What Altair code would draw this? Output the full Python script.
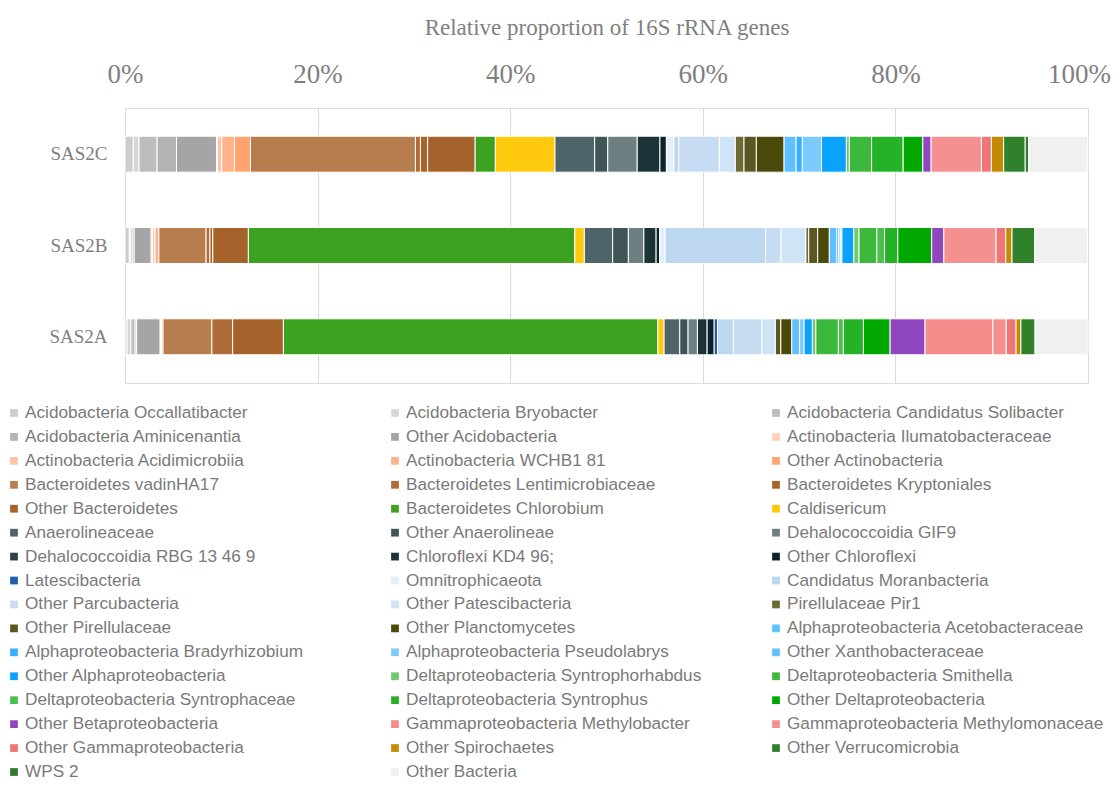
import altair as alt
import pandas as pd

categories = [
    "Acidobacteria Occallatibacter", "Acidobacteria Bryobacter", "Acidobacteria Candidatus Solibacter",
    "Acidobacteria Aminicenantia", "Other Acidobacteria", "Actinobacteria Ilumatobacteraceae",
    "Actinobacteria Acidimicrobiia", "Actinobacteria WCHB1 81", "Other Actinobacteria",
    "Bacteroidetes vadinHA17", "Bacteroidetes Lentimicrobiaceae", "Bacteroidetes Kryptoniales",
    "Other Bacteroidetes", "Bacteroidetes Chlorobium", "Caldisericum",
    "Anaerolineaceae", "Other Anaerolineae", "Dehalococcoidia GIF9",
    "Dehalococcoidia RBG 13 46 9", "Chloroflexi KD4 96;", "Other Chloroflexi",
    "Latescibacteria", "Omnitrophicaeota", "Candidatus Moranbacteria",
    "Other Parcubacteria", "Other Patescibacteria", "Pirellulaceae Pir1",
    "Other Pirellulaceae", "Other Planctomycetes", "Alphaproteobacteria Acetobacteraceae",
    "Alphaproteobacteria Bradyrhizobium", "Alphaproteobacteria Pseudolabrys", "Other Xanthobacteraceae",
    "Other Alphaproteobacteria", "Deltaproteobacteria Syntrophorhabdus", "Deltaproteobacteria Smithella",
    "Deltaproteobacteria Syntrophaceae", "Deltaproteobacteria Syntrophus", "Other Deltaproteobacteria",
    "Other Betaproteobacteria", "Gammaproteobacteria Methylobacter", "Gammaproteobacteria Methylomonaceae",
    "Other Gammaproteobacteria", "Other Spirochaetes", "Other Verrucomicrobia",
    "WPS 2", "Other Bacteria",
]

colors = [
    "#CDCDCD", "#D6D6D6", "#BDBDBD",
    "#B3B3B3", "#A5A5A5", "#FFD2BC",
    "#FFC4A6", "#FFB38C", "#FFA371",
    "#B87D4C", "#AE6C3A", "#A9642E",
    "#A5622A", "#3EA221", "#FFC90E",
    "#4F6468", "#3F5558", "#6E7F82",
    "#2C4246", "#1C3337", "#0C2428",
    "#1F5FA8", "#E4EFFB", "#BDD7F1",
    "#C7DBF2", "#D0E4F8", "#6E6A35",
    "#5A5722", "#4B4A0A", "#5EC0FF",
    "#3AAFFF", "#7CCBFF", "#5FBFFF",
    "#0AA2FF", "#6FCB6F", "#3CB83C",
    "#4CC04C", "#26B226", "#00A800",
    "#9046BF", "#F58A8A", "#F49090",
    "#F07575", "#C48A06", "#31802C",
    "#2E7D2E", "#F0F0F0",
]

samples = ["SAS2C", "SAS2B", "SAS2A"]

sas2c = [0.86, 0.60, 1.87, 2.02, 4.15, 0.10, 0.45, 1.32, 1.66, 17.13, 0.52, 0.75, 4.93, 2.10, 6.19,
         4.12, 1.36, 3.06, 0.00, 2.36, 0.67, 0.00, 0.78, 0.50, 4.22, 1.66, 0.90, 1.28, 2.88, 1.25,
         0.65, 1.99, 0.00, 2.58, 0.31, 2.31, 0.00, 3.28, 2.04, 0.86, 0.00, 5.22, 1.04, 1.27, 2.24,
         0.37, 6.13]
sas2b = [0.45, 0.10, 0.20, 0.20, 1.77, 0.15, 0.25, 0.40, 0.00, 4.90, 0.40, 0.30, 3.69, 33.90, 0.99,
         2.94, 1.63, 1.61, 0.00, 1.27, 0.37, 0.00, 0.56, 10.44, 1.61, 2.58, 0.29, 0.93, 1.21, 0.78,
         0.21, 0.16, 0.16, 1.23, 0.54, 1.85, 0.80, 1.38, 3.52, 1.26, 0.00, 5.42, 1.01, 0.65, 2.37,
         0.00, 5.46]
sas2a = [0.22, 0.39, 0.44, 0.16, 2.44, 0.00, 0.05, 0.10, 0.15, 5.07, 2.16, 0.00, 5.27, 38.89, 0.64,
         1.63, 0.86, 0.97, 0.00, 1.01, 0.73, 0.36, 0.00, 1.64, 2.95, 1.41, 0.00, 0.56, 1.14, 0.81,
         0.00, 0.47, 0.00, 0.86, 0.36, 2.34, 0.52, 2.08, 2.77, 3.63, 7.04, 1.39, 1.02, 0.50, 1.47,
         0.00, 5.49]

x_ticks = [0, 20, 40, 60, 80, 100]

rows = []
for s, vals in zip(samples, [sas2c, sas2b, sas2a]):
    for i, (c, v) in enumerate(zip(categories, vals)):
        if v > 0:
            rows.append({"sample": s, "category": c, "idx": i, "value": v})
df = pd.DataFrame(rows)

leg = pd.DataFrame({"category": categories, "idx": list(range(len(categories)))})
leg["row"] = leg["idx"] // 3
leg["col"] = leg["idx"] % 3

color_scale = alt.Scale(domain=categories, range=colors)
GRAY = "#7F7F7F"

bars = alt.Chart(df).mark_bar(stroke="white", strokeWidth=1).encode(
    x=alt.X("value:Q", stack="zero",
            scale=alt.Scale(domain=[0, 100], nice=False),
            axis=alt.Axis(orient="top", values=x_ticks, labelExpr="datum.value + '%'",
                          title="Relative proportion of 16S rRNA genes",
                          labelFont="Liberation Serif", labelFontSize=27, labelColor=GRAY,
                          labelPadding=20, labelFlush=False, domain=False, ticks=False,
                          labelOffset={"condition": {"test": "datum.value == 100", "value": -9}, "value": 0},
                          grid=True, gridColor="#D9D9D9", gridWidth=1,
                          titleFont="Liberation Serif", titleFontSize=23, titleFontWeight="normal",
                          titleColor=GRAY, titlePadding=21)),
    y=alt.Y("sample:N", sort=samples,
            scale=alt.Scale(paddingInner=0.606, paddingOuter=0.309),
            axis=alt.Axis(title=None, labelFont="Liberation Serif", labelFontSize=19,
                          labelColor=GRAY, labelPadding=18, domain=False, ticks=False, grid=False)),
    color=alt.Color("category:N", scale=color_scale, legend=None),
    order=alt.Order("idx:Q"),
)

leg_x = alt.X("col:Q", scale=alt.Scale(domain=[0, 2], range=[-111, 651], nice=False, zero=False), axis=None)
leg_y = alt.Y("row:Q", scale=alt.Scale(domain=[0, 15], range=[305, 664], nice=False, zero=False), axis=None)

sym = alt.Chart(leg).mark_square(size=60, opacity=1).encode(
    x=leg_x, y=leg_y,
    color=alt.Color("category:N", scale=color_scale, legend=None),
)
txt = alt.Chart(leg).mark_text(align="left", baseline="middle", dx=11, font="Liberation Sans",
                               fontSize=17.2, color="#7A7A7A").encode(
    x=leg_x, y=leg_y, text="category:N",
)

chart = alt.layer(bars, sym, txt).resolve_scale(x="independent", y="independent").properties(
    width=963, height=275,
    autosize=alt.AutoSizeParams(type="none"),
    padding={"left": 117, "top": 100, "right": 24, "bottom": 402},
).configure_view(strokeWidth=0, stroke="transparent").configure(background="white")

chart.save("out.html", embed_options={"renderer": "svg", "actions": False})
